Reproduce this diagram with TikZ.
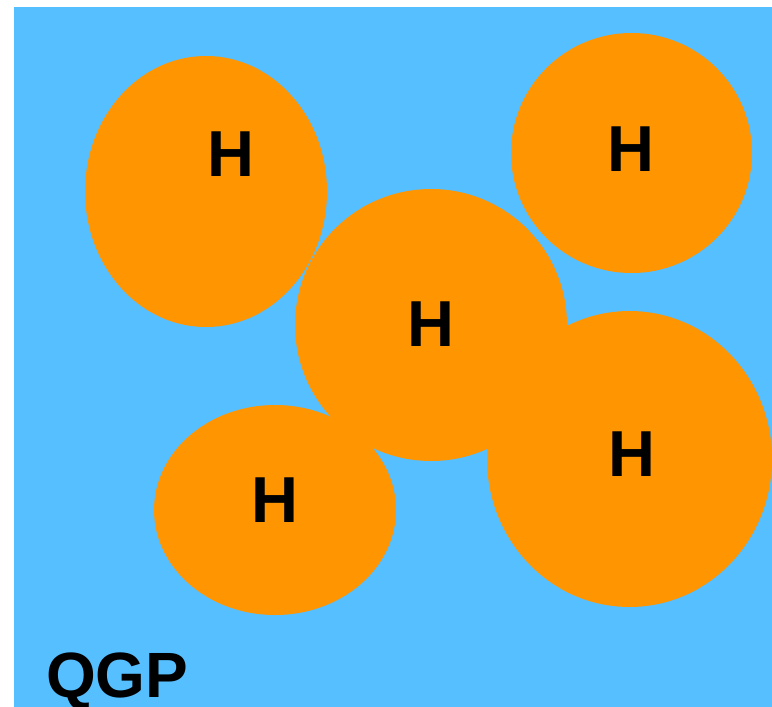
\documentclass[tikz,border=0pt]{standalone}
\usepackage{fontspec}
\setmainfont{Liberation Sans}
\definecolor{qgpblue}{RGB}{86,191,255}
\definecolor{hadorange}{RGB}{255,149,0}
\begin{document}
\begin{tikzpicture}[x=1pt,y=-1pt,
  hadron/.style={fill=hadorange,draw=none},
  hlabel/.style={font=\fontsize{65}{65}\selectfont\bfseries,inner sep=0pt,text=black},
  qlabel/.style={font=\fontsize{64}{64}\selectfont\bfseries,inner sep=0pt,text=black,anchor=base west}]
\useasboundingbox (0,0) rectangle (772,707);
\fill[qgpblue] (14,7) rectangle (772,707);
\fill[hadron] (206,191.5) ellipse [x radius=121, y radius=135.5];
\fill[hadron] (631.5,153) ellipse [x radius=120.5, y radius=120];
\fill[hadron] (431,325) ellipse [x radius=136, y radius=136];
\fill[hadron] (275,510) ellipse [x radius=121, y radius=105];
\fill[hadron] (629.5,459) ellipse [x radius=142.5, y radius=148];
\node[hlabel] (h1) at (231,154) {H};
\node[hlabel] (h2) at (631,149.5) {H};
\node[hlabel] (h3) at (431,324.5) {H};
\node[hlabel] (h4) at (275,500) {H};
\node[hlabel] (h5) at (631.5,454.5) {H};
\node[qlabel] (qgp) at (46,697) {QGP};
\end{tikzpicture}
\end{document}
